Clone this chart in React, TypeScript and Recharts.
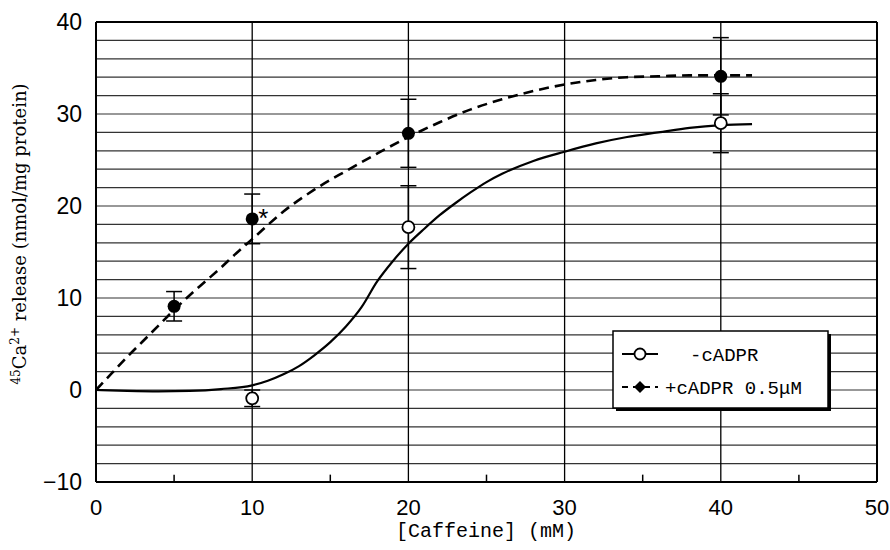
import React from 'react';
import {
  ComposedChart,
  Line,
  Scatter,
  ErrorBar,
  XAxis,
  YAxis,
  ReferenceLine,
  Legend,
  Label,
} from 'recharts';

// measured points (mean, s.e.)
const cadprDose = [5, 10, 20, 40];
const cadprMean = [9.1, 18.6, 27.9, 34.1];
const cadprErr = [1.6, 2.7, 3.7, 4.2];
const cadprNote = ['', '*', '', ''];

const noCadprDose = [10, 20, 40];
const noCadprMean = [-0.9, 17.7, 29.0];
const noCadprErr = [0.9, 4.5, 3.2];

// fitted curves
const cadprFitX = [0, 1, 2, 3, 4, 5, 6, 7, 8, 9, 10, 12, 14, 16, 18, 20, 22, 24, 26, 28, 30, 32, 34, 36, 38, 40, 42];
const cadprFitY = [0, 1.8, 3.6, 5.3, 7.0, 8.7, 10.3, 11.8, 13.3, 14.9, 16.4, 19.4, 21.8, 23.8, 25.7, 27.5, 29.1, 30.5, 31.6, 32.5, 33.2, 33.7, 34.0, 34.1, 34.2, 34.2, 34.2];

const noCadprFitX = [0, 2, 4, 6, 8, 10, 11, 12, 13, 14, 15, 16, 17, 18, 19, 20, 21, 22, 23, 24, 25, 26, 28, 30, 32, 34, 36, 38, 40, 42];
const noCadprFitY = [0, -0.1, -0.15, -0.1, 0.1, 0.5, 1.0, 1.7, 2.6, 3.8, 5.2, 6.9, 9.0, 11.8, 14.0, 15.9, 17.5, 19.0, 20.3, 21.5, 22.6, 23.5, 24.9, 25.9, 26.8, 27.5, 28.0, 28.5, 28.8, 28.9];

// axes and grid
const xTicks = [0, 10, 20, 30, 40, 50];
const yTicks = [-10, 0, 10, 20, 30, 40];
const gridX = [10, 20, 30, 40];
const gridY = [-8, -6, -4, -2, 0, 2, 4, 6, 8, 10, 12, 14, 16, 18, 20, 22, 24, 26, 28, 30, 32, 34, 36, 38];
const minorX = [5, 15, 25, 35, 45];

const cadprPts = cadprDose.map((x, i) => ({ x, y: cadprMean[i], err: cadprErr[i], note: cadprNote[i] }));
const noCadprPts = noCadprDose.map((x, i) => ({ x, y: noCadprMean[i], err: noCadprErr[i] }));
const cadprFit = cadprFitX.map((x, i) => ({ x, y: cadprFitY[i] }));
const noCadprFit = noCadprFitX.map((x, i) => ({ x, y: noCadprFitY[i] }));

const fmtY = (v: number) => (v < 0 ? '\u2212' + Math.abs(v) : String(v));

const XTitle = () => (
  <text x={486} y={537} textAnchor="middle" fontFamily="Liberation Mono" fontSize={20} fill="#000">
    [Caffeine] (mM)
  </text>
);

const YTitle = () => (
  <text
    x={26}
    y={234}
    transform="rotate(-90 26 234)"
    textAnchor="middle"
    fontFamily="DejaVu Serif"
    fontSize={18}
    fill="#000"
  >
    <tspan fontSize={12} dy={-6}>45</tspan>
    <tspan dy={6}>Ca</tspan>
    <tspan fontSize={12} dy={-7}>2+</tspan>
    <tspan dy={7}> release (nmol/mg protein)</tspan>
  </text>
);

const renderLegend = () => (
  <svg width={222} height={84} style={{ display: 'block' }}>
    <rect x={4} y={4} width={215} height={77} fill="#000" />
    <rect x={1} y={1} width={215} height={77} fill="#fff" stroke="#000" strokeWidth={1.5} />
    <line x1={10} x2={46} y1={24} y2={24} stroke="#000" strokeWidth={2} />
    <circle cx={28} cy={24} r={5.5} fill="#fff" stroke="#000" strokeWidth={1.8} />
    <text x={78} y={31} fontFamily="Liberation Mono" fontSize={19} fill="#000">-cADPR</text>
    <line x1={10} x2={46} y1={57} y2={57} stroke="#000" strokeWidth={2} strokeDasharray="6 5" />
    <path d="M28 51 L34 57 L28 63 L22 57 Z" fill="#000" />
    <text x={53} y={64} fontFamily="Liberation Mono" fontSize={19} fill="#000">+cADPR 0.5μM</text>
  </svg>
);

const OpenDot = (p: any) => (
  <circle cx={p.cx} cy={p.cy} r={6} fill="#fff" stroke="#000" strokeWidth={1.8} />
);

const FilledDot = (p: any) => (
  <g>
    <circle cx={p.cx} cy={p.cy} r={6.5} fill="#000" />
    {p.payload && p.payload.note ? (
      <text x={p.cx + 6} y={p.cy + 8} fontFamily="Liberation Sans" fontSize={26} fill="#000">
        {p.payload.note}
      </text>
    ) : null}
  </g>
);

export default function App() {
  return (
    <div style={{ position: 'absolute', left: 0, top: 0, width: 890, height: 550, background: '#fff' }}>
      <ComposedChart width={890} height={550} margin={{ top: 22, right: 13, left: 0, bottom: 0 }}>
        <XAxis
          type="number"
          dataKey="x"
          domain={[0, 50]}
          ticks={xTicks}
          interval={0}
          height={68}
          allowDataOverflow
          tickLine={false}
          tickMargin={11}
          axisLine={{ stroke: '#000', strokeWidth: 2 }}
          tick={{ fill: '#000', fontSize: 22, fontFamily: 'Liberation Sans' }}
        >
          <Label content={XTitle} />
        </XAxis>
        <YAxis
          type="number"
          dataKey="y"
          domain={[-10, 40]}
          ticks={yTicks}
          interval={0}
          width={96}
          allowDataOverflow
          tickLine={false}
          tickMargin={8}
          tickFormatter={fmtY}
          axisLine={{ stroke: '#000', strokeWidth: 2 }}
          tick={{ fill: '#000', fontSize: 23, fontFamily: 'Liberation Sans' }}
        >
          <Label content={YTitle} />
        </YAxis>

        {gridY.map((v) => (
          <ReferenceLine key={'gy' + v} y={v} stroke="#333" strokeWidth={1.2} />
        ))}
        {gridX.map((v) => (
          <ReferenceLine key={'gx' + v} x={v} stroke="#000" strokeWidth={1.3} />
        ))}
        {minorX.map((v) => (
          <ReferenceLine key={'mx' + v} segment={[{ x: v, y: -10 }, { x: v, y: -9.2 }]} stroke="#000" strokeWidth={1.5} />
        ))}
        <ReferenceLine y={40} stroke="#000" strokeWidth={2} />
        <ReferenceLine x={50} stroke="#000" strokeWidth={2} />

        <Line
          data={noCadprFit}
          dataKey="y"
          type="monotone"
          stroke="#000"
          strokeWidth={2.2}
          dot={false}
          activeDot={false}
          isAnimationActive={false}
          legendType="none"
        />
        <Line
          data={cadprFit}
          dataKey="y"
          type="monotone"
          stroke="#000"
          strokeWidth={2.6}
          strokeDasharray="10 6"
          dot={false}
          activeDot={false}
          isAnimationActive={false}
          legendType="none"
        />

        <Scatter data={noCadprPts} dataKey="y" shape={OpenDot} isAnimationActive={false}>
          <ErrorBar dataKey="err" direction="y" width={8} stroke="#000" strokeWidth={1.5} />
        </Scatter>
        <Scatter data={cadprPts} dataKey="y" shape={FilledDot} isAnimationActive={false}>
          <ErrorBar dataKey="err" direction="y" width={8} stroke="#000" strokeWidth={1.5} />
        </Scatter>

        <Legend
          layout="vertical"
          align="center"
          verticalAlign="middle"
          content={renderLegend}
          wrapperStyle={{ position: 'absolute', left: 612, top: 330, width: 222, height: 84 }}
        />
      </ComposedChart>
    </div>
  );
}
